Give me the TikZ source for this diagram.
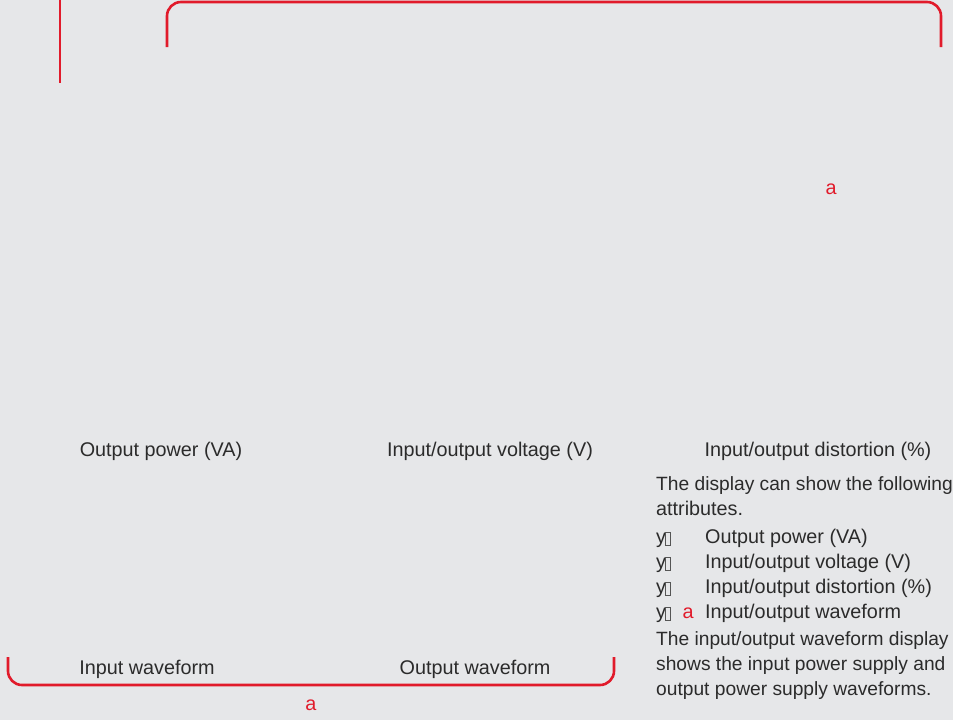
\documentclass[tikz,border=0pt]{standalone}
\usepackage{fontspec}
\setmainfont{Liberation Sans}
\definecolor{bg}{HTML}{E6E7E9}
\definecolor{redA}{HTML}{E11B2B}
\definecolor{txt}{HTML}{2B2B2B}
\begin{document}
\begin{tikzpicture}[x=1pt,y=-1pt,
  redline/.style={draw=redA,line width=2.6pt,rounded corners=14pt},
  lbl/.style={text=txt,font=\fontsize{19.8}{25}\selectfont,inner sep=0pt,anchor=base},
  para/.style={lbl,anchor=base west},
  tight/.style={font=\fontsize{19.2}{25}\selectfont},
  redletter/.style={text=redA,font=\fontsize{19.8}{25}\selectfont,inner sep=0pt,anchor=base},
  tofu/.style={draw=txt!80,line width=0.6pt}
]
\fill[bg] (0,0) rectangle (953,720);
\useasboundingbox (0,0) rectangle (953,720);
\clip (0,0) rectangle (953,720);

% red markers
\coordinate (vt) at (60,0);
\coordinate (vb) at (60,83);
\draw[redline] (vt) -- (vb);
\coordinate (tl) at (167,47);
\coordinate (tr) at (941,47);
\draw[redline] (tl) -- (167,2) -- (941,2) -- (tr);
\coordinate (bl) at (8,657);
\coordinate (br) at (614,657);
\draw[redline] (bl) -- (8,685) -- (614,685) -- (br);

\node[redletter] (a1) at (831,194) {a};
\node[redletter] (a2) at (311,710) {a};

% labels
\node[lbl] (op) at (161,456) {Output power (VA)};
\node[lbl] (iov) at (490,456) {Input/output voltage (V)};
\node[lbl] (iod) at (818,456) {Input/output distortion (\%)};
\node[lbl] (iw) at (147,674) {Input waveform};
\node[lbl] (ow) at (475,674) {Output waveform};

% paragraph
\node[para,tight] (p1) at (656,490) {The display can show the following};
\node[para] (p2) at (656,515) {attributes.};
\foreach \i/\yy/\t in {1/543/{Output power (VA)},2/568/{Input/output voltage (V)},3/593/{Input/output distortion (\%)},4/618/{Input/output waveform}}{
  \node[para] (y\i) at (656,\yy) {y};
  \draw[tofu] (665.5,\yy+2) rectangle (670,\yy-11);
  \node[para] (b\i) at (705,\yy) {\t};
}
\node[redletter] (a3) at (688,618) {a};
\node[para,tight] (p3) at (656,645) {The input/output waveform display};
\node[para,tight] (p4) at (656,670) {shows the input power supply and};
\node[para,tight] (p5) at (656,695) {output power supply waveforms.};
\end{tikzpicture}
\end{document}
